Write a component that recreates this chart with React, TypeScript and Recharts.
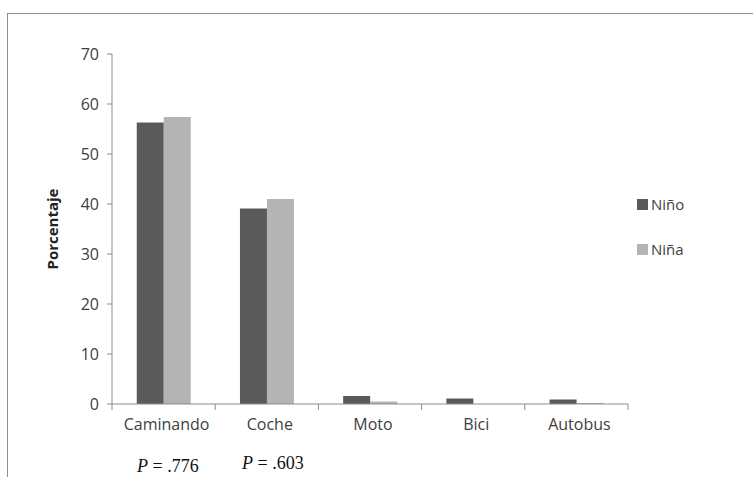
import { Bar, BarChart, XAxis, YAxis } from "recharts";

const categories = ["Caminando", "Coche", "Moto", "Bici", "Autobus"];
const ninoValues = [56.3, 39.1, 1.6, 1.1, 0.9];
const ninaValues = [57.4, 41.0, 0.5, 0, 0.2];
const yTicks = [0, 10, 20, 30, 40, 50, 60, 70];
const pLabels = [
  { text: ".776", left: 137, top: 457 },
  { text: ".603", left: 242, top: 454 },
];

const data = categories.map((name, i) => ({ name, nino: ninoValues[i], nina: ninaValues[i] }));

const W = 753;
const H = 477;
const plotLeft = 112;
const plotRight = 628;
const band = (plotRight - plotLeft) / categories.length;
const axisColor = "#8c8c8c";
const textColor = "#404040";
const font = "'Open Sans', sans-serif";
const ninoColor = "#5b5a58";
const ninaColor = "#b4b4b4";

function CategoryTick(props: any) {
  const { x, y, payload, index } = props;
  const left = x - band / 2;
  return (
    <g>
      <line x1={left} y1={y - 8} x2={left} y2={y - 2} stroke={axisColor} />
      {index === categories.length - 1 && (
        <line x1={left + band} y1={y - 8} x2={left + band} y2={y - 2} stroke={axisColor} />
      )}
      <text x={x + 3} y={y + 18} textAnchor="middle" fill={textColor} fontSize={16} fontFamily={font}>
        {payload.value}
      </text>
    </g>
  );
}

function LegendBox() {
  const items = [
    { label: "Niño", color: ninoColor },
    { label: "Niña", color: ninaColor },
  ];
  return (
    <div style={{ position: "absolute", left: 637, top: 193, fontFamily: font, fontSize: 15, color: textColor }}>
      {items.map((it) => (
        <div key={it.label} style={{ display: "flex", alignItems: "center", height: 22, marginBottom: 23 }}>
          <span style={{ width: 11, height: 11, background: it.color, marginRight: 3, display: "inline-block" }} />
          {it.label}
        </div>
      ))}
    </div>
  );
}

export default function App() {
  return (
    <div style={{ position: "absolute", left: 0, top: 0, width: W, height: H, background: "#fff", overflow: "hidden" }}>
      <div
        style={{
          position: "absolute",
          left: 7,
          top: 13,
          width: W,
          height: H,
          borderTop: `1px solid ${axisColor}`,
          borderLeft: `1px solid ${axisColor}`,
        }}
      />
      <BarChart
        width={W}
        height={H}
        data={data}
        margin={{ top: 54, right: W - plotRight, bottom: 43, left: plotLeft - 60 }}
        barCategoryGap="24%"
        barGap={0}
        style={{ position: "absolute", left: 0, top: 0 }}
      >
        <XAxis
          dataKey="name"
          stroke={axisColor}
          tickLine={false}
          interval={0}
          height={30}
          tick={<CategoryTick />}
        />
        <YAxis
          domain={[0, 70]}
          ticks={yTicks}
          interval={0}
          width={60}
          stroke={axisColor}
          tickSize={5}
          tickMargin={8}
          tick={{ fill: textColor, fontSize: 16, fontFamily: font }}
          label={{
            value: "Porcentaje",
            angle: -90,
            position: "insideLeft",
            offset: 0,
            dx: 1,
            style: { fontWeight: "bold", fontSize: 15, fill: "#222", fontFamily: font, textAnchor: "middle" },
          }}
        />
        <Bar dataKey="nino" name="Niño" fill={ninoColor} isAnimationActive={false} />
        <Bar dataKey="nina" name="Niña" fill={ninaColor} isAnimationActive={false} />
      </BarChart>
      <LegendBox />
      {pLabels.map((p) => (
        <div
          key={p.text}
          style={{
            position: "absolute",
            left: p.left,
            top: p.top,
            fontFamily: "'Liberation Serif', serif",
            fontSize: 18,
            lineHeight: 1,
            color: "#111",
            whiteSpace: "nowrap",
          }}
        >
          <i>P</i> = {p.text}
        </div>
      ))}
    </div>
  );
}
